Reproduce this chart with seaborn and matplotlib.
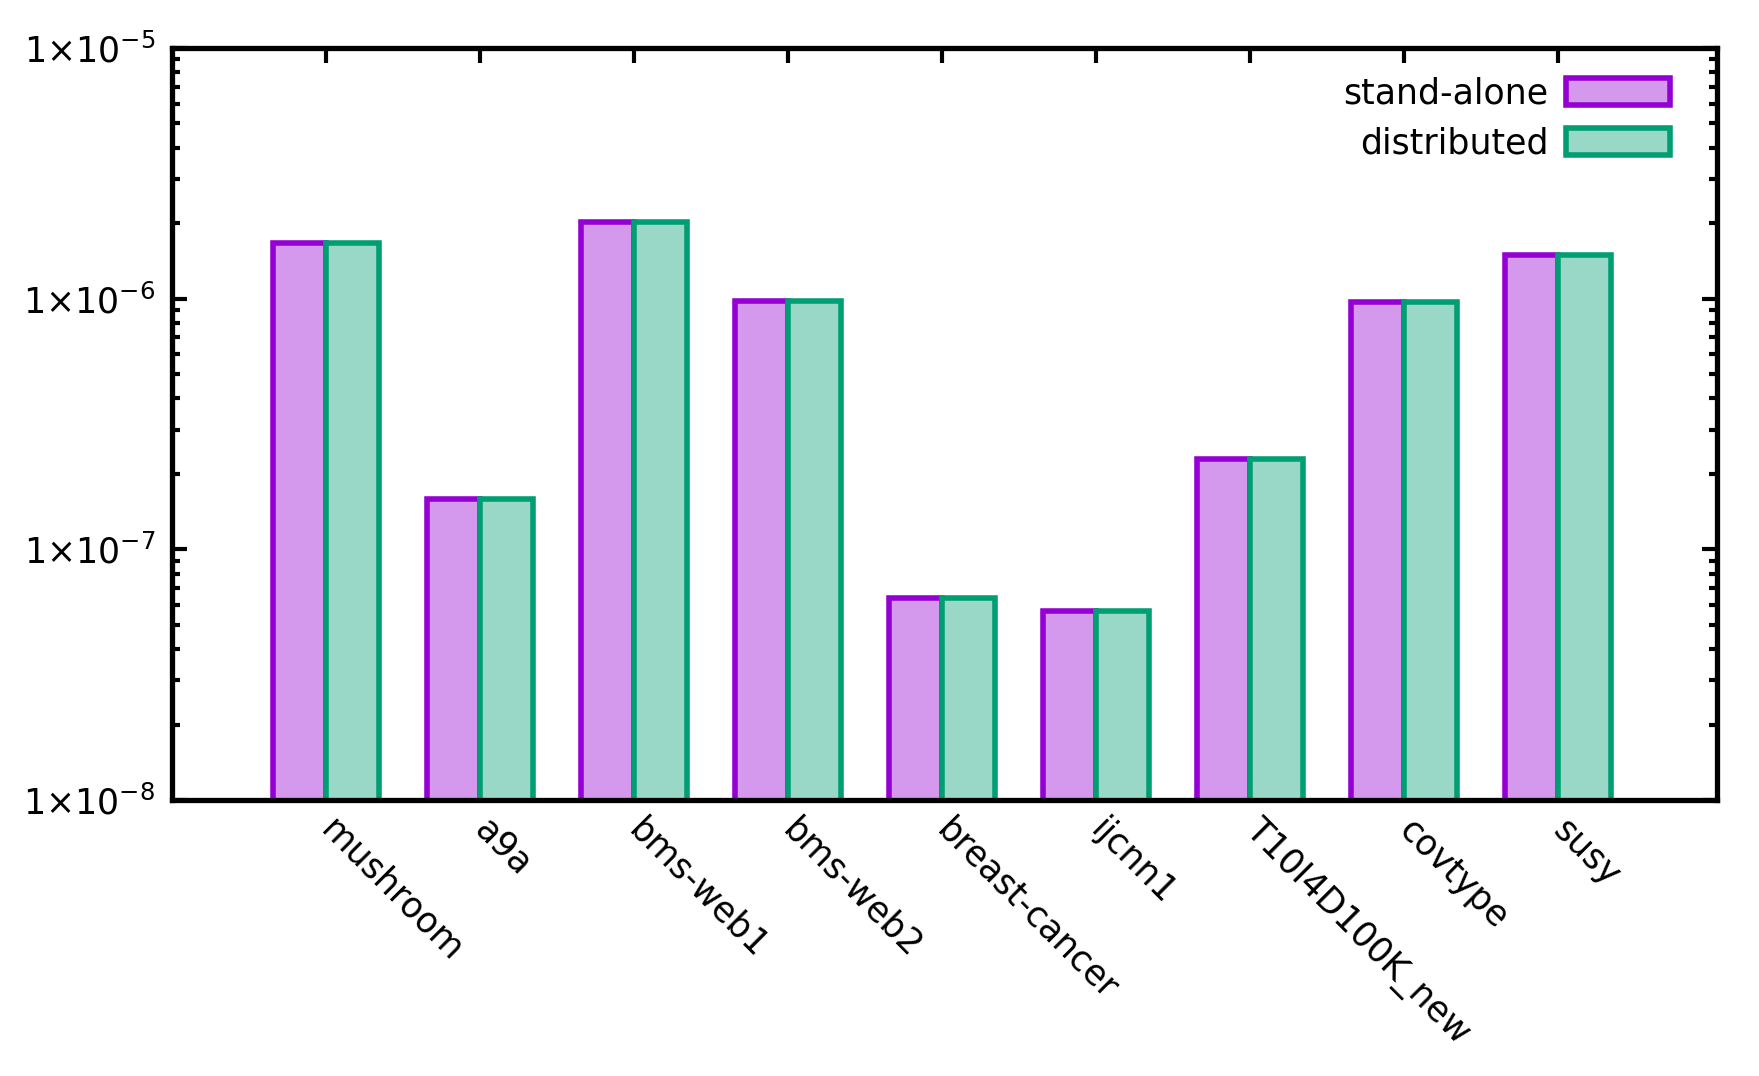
import matplotlib
matplotlib.use("Agg")
import matplotlib.pyplot as plt
import matplotlib.ticker as mticker
import seaborn as sns
import pandas as pd
import numpy as np

categories = ["mushroom", "a9a", "bms-web1", "bms-web2", "breast-cancer",
              "ijcnn1", "T10I4D100K_new", "covtype", "susy"]
stand_alone = [1.66e-6, 1.59e-7, 2.02e-6, 9.8e-7, 6.4e-8, 5.7e-8, 2.3e-7, 9.7e-7, 1.49e-6]
distributed = [1.66e-6, 1.59e-7, 2.02e-6, 9.8e-7, 6.4e-8, 5.7e-8, 2.3e-7, 9.7e-7, 1.49e-6]
series_names = ["stand-alone", "distributed"]
ytick_values = [1e-8, 1e-7, 1e-6, 1e-5]
ytick_labels = [r"$1{\times}10^{-8}$", r"$1{\times}10^{-7}$", r"$1{\times}10^{-6}$", r"$1{\times}10^{-5}$"]

edge_colors = ["#9400D3", "#009E73"]
fill_colors = ["#D499ED", "#99D8C7"]

df = pd.DataFrame({
    "dataset": categories * 2,
    "value": stand_alone + distributed,
    "series": [series_names[0]] * len(categories) + [series_names[1]] * len(categories),
})

sns.set_style("white")
plt.rcParams["font.family"] = ["DejaVu Sans"]
plt.rcParams["mathtext.fontset"] = "dejavusans"
for key in ["text.color", "axes.labelcolor", "xtick.color", "ytick.color"]:
    plt.rcParams[key] = "black"

fig = plt.figure(figsize=(17.59, 10.76), dpi=100)
ax = fig.add_axes([0.0978, 0.2565, 0.976 - 0.0978, 0.9554 - 0.2565])

sns.barplot(data=df, x="dataset", y="value", hue="series", order=categories,
            hue_order=series_names, palette=fill_colors, width=0.69, gap=0,
            saturation=1, ax=ax, legend=True)

for cont, ec in zip(ax.containers, edge_colors):
    for patch in cont:
        patch.set_edgecolor(ec)
        patch.set_linewidth(4.0)
        patch.set_joinstyle("miter")

ax.set_yscale("log")
ax.set_ylim(1e-8, 1e-5)
ax.set_xlim(-1, 9.03)
ax.set_xlabel("")
ax.set_ylabel("")

ax.yaxis.set_major_locator(mticker.FixedLocator(ytick_values))
ax.yaxis.set_major_formatter(mticker.FixedFormatter(ytick_labels))
ax.yaxis.set_minor_locator(mticker.LogLocator(base=10, subs=np.arange(2, 10)))
ax.yaxis.set_minor_formatter(mticker.NullFormatter())
ax.tick_params(axis="y", which="major", direction="in", length=11, width=3,
               left=True, right=True, labelsize=25, pad=12, colors="black")
ax.tick_params(axis="y", which="minor", direction="in", length=6, width=3,
               left=True, right=True, colors="black")
ax.tick_params(axis="x", which="major", direction="in", length=11, width=3,
               top=True, bottom=False, labelsize=25, pad=18, colors="black")

for lab in ax.get_xticklabels():
    lab.set_rotation(-45)
    lab.set_ha("left")
    lab.set_va("center")
    lab.set_rotation_mode("anchor")

for sp in ax.spines.values():
    sp.set_visible(True)
    sp.set_linewidth(3.8)
    sp.set_color("black")

handles, labels = ax.get_legend_handles_labels()
for h, ec in zip(handles, edge_colors):
    h.set_edgecolor(ec)
    h.set_linewidth(4.0)
leg = ax.legend(handles, labels, loc="upper right", markerfirst=False, frameon=False,
                fontsize=25, handlelength=3.0, handleheight=0.8, handletextpad=0.5,
                labelspacing=0.45, borderaxespad=0.6, bbox_to_anchor=(0.992, 1.008))
for t in leg.get_texts():
    t.set_color("black")

fig.savefig("out.png", dpi=100, facecolor="white")
